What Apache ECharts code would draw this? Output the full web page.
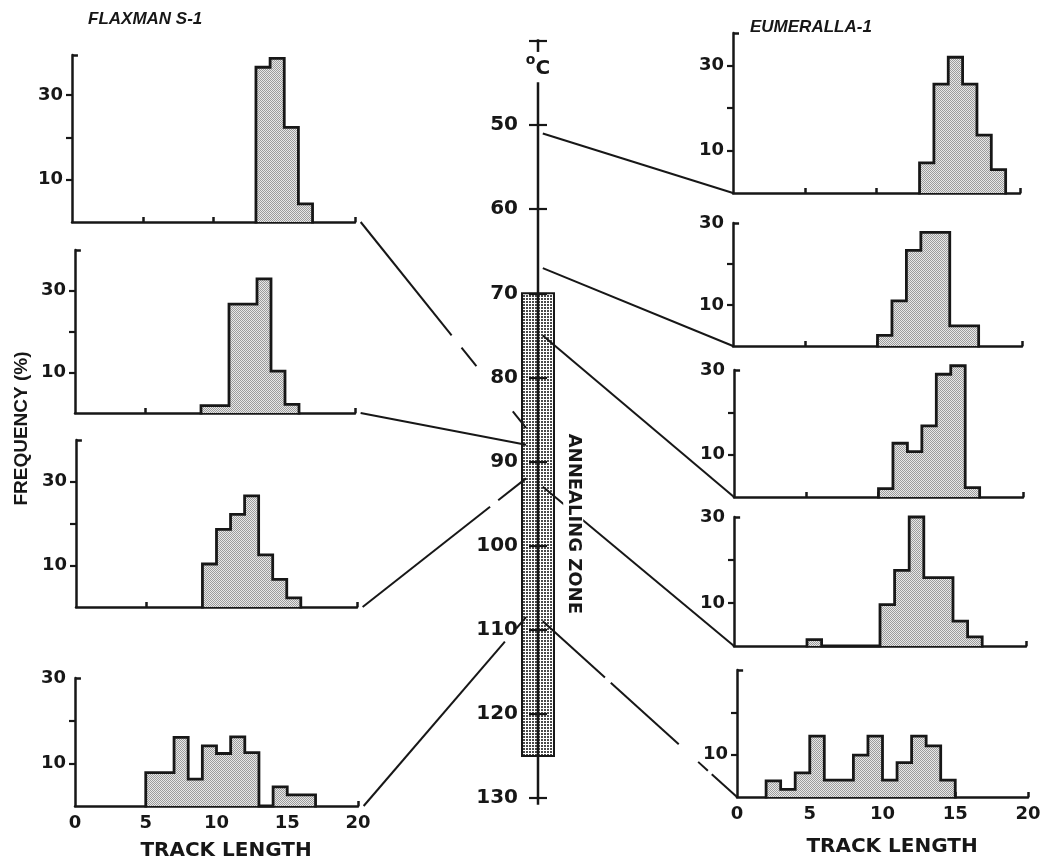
<!DOCTYPE html>
<html>
<head>
<meta charset="utf-8">
<title>Track length distributions vs temperature</title>
<script src="https://cdn.jsdelivr.net/npm/echarts@6/dist/echarts.min.js"></script>
<style>
  html, body { margin: 0; padding: 0; background: #fff; }
  #chart { width: 1047px; height: 860px; }
</style>
</head>
<body>
<div id="chart"></div>
<script>
// ---------------- data ----------------
const trackLengthTicks = [0, 5, 10, 15, 20];
const frequencyTicks = [10, 20, 30];
const frequencyLabels = [10, 30];
const lowestEumerallaLabels = [10];
const temperatureTicks = [40, 50, 60, 70, 80, 90, 100, 110, 120, 130];
const temperatureLabels = [50, 60, 70, 80, 90, 100, 110, 120, 130];

const flaxmanTitle = 'FLAXMAN S-1';
const eumerallaTitle = 'EUMERALLA-1';

// Flaxman S-1: first bin (track length) and frequency (%) per 1-unit bin
const flaxmanFirstBin = [13, 9, 9, 5];
const flaxman1 = [36.6, 38.7, 22.4, 4.3];
const flaxman2 = [1.8, 1.8, 26.7, 26.7, 32.9, 10.3, 2.1];
const flaxman3 = [10.3, 18.6, 22.2, 26.6, 12.5, 6.6, 2.2];
const flaxman4 = [7.8, 7.8, 16.1, 6.3, 14.1, 12.3, 16.2, 12.5, 0, 4.5, 2.6, 2.6];
// temperature (°C) each Flaxman sample is tied to
const flaxmanTemps = [86, 88, 92, 108.5];

// Eumeralla-1
const eumerallaFirstBin = [13, 10, 10, 5, 2];
const eumeralla1 = [7.1, 25.6, 31.9, 25.6, 13.6, 5.5];
const eumeralla2 = [2.6, 11, 23.3, 27.7, 27.7, 4.9, 4.9];
const eumeralla3 = [2, 12.7, 10.7, 16.8, 29, 31, 2.2];
const eumeralla4 = [1.5, 0, 0, 0, 0, 9.6, 17.6, 30, 15.9, 15.9, 5.8, 2.1];
const eumeralla5 = [3.8, 1.8, 5.7, 14.4, 4.0, 4.0, 9.9, 14.4, 4.0, 8.1, 14.4, 12.1, 4.0];
const eumerallaTemps = [51, 67, 75, 93, 109];

// temperature range of the annealing zone (°C)
const annealingZone = [70, 125];

// ---------------- layout ----------------
const INK = '#171717';
const leftBoxes = [
  { left: 72, top: 55,  width: 283, height: 167, yMax: 39.5 },
  { left: 75, top: 250, width: 280, height: 163, yMax: 40 },
  { left: 76, top: 440, width: 281, height: 167, yMax: 40 },
  { left: 75, top: 678, width: 283, height: 128, yMax: 30 }
];
const rightBoxes = [
  { left: 733, top: 33,  width: 287, height: 160, yMax: 37.6 },
  { left: 733, top: 223, width: 289, height: 123, yMax: 30 },
  { left: 734, top: 370, width: 289, height: 127, yMax: 30 },
  { left: 734, top: 517, width: 292, height: 129, yMax: 30 },
  { left: 737, top: 670, width: 291, height: 127, yMax: 30 }
];
const centerBox = { left: 498, top: 41, width: 80, height: 757 };
// drawn pieces of the temperature spine (gap left for the unit label)
const spinePieces = [[39.8, 41.3], [44.9, 130.8]];
const capLength = 0.42; // length of the cap at the top of each frequency axis, in track-length units

// stippled fill used for the histograms
function makeStipple() {
  const c = document.createElement('canvas');
  c.width = 2; c.height = 2;
  const g = c.getContext('2d');
  g.fillStyle = '#e8e8e8'; g.fillRect(0, 0, 2, 2);
  g.fillStyle = '#9c9c9c'; g.fillRect(0, 0, 1, 1); g.fillRect(1, 1, 1, 1);
  return c;
}
// dotted fill for the annealing zone bar
function makeDots() {
  const c = document.createElement('canvas');
  c.width = 3; c.height = 3;
  const g = c.getContext('2d');
  g.fillStyle = '#ffffff'; g.fillRect(0, 0, 3, 3);
  g.fillStyle = '#4a4a4a'; g.fillRect(1, 1, 2, 2);
  return c;
}
const stipple = { image: makeStipple(), repeat: 'repeat' };
const zoneDots = { image: makeDots(), repeat: 'repeat' };

function stepPoints(first, counts) {
  const pts = [[first, 0]];
  counts.forEach((v, i) => pts.push([first + i + 1, v]));
  pts.push([first + counts.length, 0]);
  return pts;
}

const panels = [
  ...[flaxman1, flaxman2, flaxman3, flaxman4].map((c, i) => ({
    first: flaxmanFirstBin[i], counts: c, box: leftBoxes[i],
    bottom: i === 3, labels: frequencyLabels, nameGap: 35
  })),
  ...[eumeralla1, eumeralla2, eumeralla3, eumeralla4, eumeralla5].map((c, i) => ({
    first: eumerallaFirstBin[i], counts: c, box: rightBoxes[i],
    bottom: i === 4, labels: i === 4 ? lowestEumerallaLabels : frequencyLabels, nameGap: 40
  }))
];

const numFont = { fontFamily: 'DejaVu Sans', fontWeight: 'bold', fontSize: 18, color: INK };
const axisLineStyle = { color: INK, width: 2.5 };

const grids = [], xAxes = [], yAxes = [], series = [];

panels.forEach((p, k) => {
  const b = p.box;
  grids.push({ left: b.left, top: b.top, width: b.width, height: b.height, outerBoundsMode: 'none' });
  xAxes.push({
    gridIndex: k, type: 'value', min: 0, max: 20,
    axisLine: { show: true, onZero: false, lineStyle: axisLineStyle },
    axisTick: { show: true, inside: true, length: 5, customValues: trackLengthTicks.filter(v => v > 0),
                lineStyle: { color: INK, width: 2.5 } },
    axisLabel: p.bottom
      ? Object.assign({ show: true, customValues: trackLengthTicks, margin: 8 }, numFont)
      : { show: false },
    splitLine: { show: false },
    name: p.bottom ? 'TRACK LENGTH' : '',
    nameLocation: 'middle', nameGap: p.nameGap,
    nameTextStyle: { fontFamily: 'DejaVu Sans', fontWeight: 'bold', fontSize: 20, color: INK,
                     padding: [0, 0, 0, 19] }
  });
  yAxes.push({
    gridIndex: k, type: 'value', min: 0, max: b.yMax, position: 'left',
    axisLine: { show: true, onZero: false, lineStyle: axisLineStyle },
    axisTick: { show: true, inside: false, length: 6,
                customValues: frequencyTicks.filter(v => v < b.yMax),
                lineStyle: { color: INK, width: 2.2 } },
    axisLabel: Object.assign({ show: true, customValues: p.labels, margin: 9 }, numFont),
    splitLine: { show: false }
  });
  series.push({
    type: 'line', xAxisIndex: k, yAxisIndex: k,
    step: 'start', data: stepPoints(p.first, p.counts),
    symbol: 'none', clip: false, silent: true,
    lineStyle: { color: INK, width: 2.8, join: 'miter', cap: 'square' },
    areaStyle: { color: stipple, opacity: 1 },
    z: 2,
    // short cap at the top of the frequency axis, pointing into the plot
    markLine: {
      silent: true, animation: false, symbol: ['none', 'none'],
      label: { show: false },
      lineStyle: { color: INK, width: 2.5, type: 'solid' },
      emphasis: { disabled: true },
      data: [[{ coord: [0, b.yMax] }, { coord: [capLength, b.yMax] }]]
    }
  });
});

// central temperature scale
const C = panels.length;
grids.push({ left: centerBox.left, top: centerBox.top, width: centerBox.width, height: centerBox.height, outerBoundsMode: 'none' });
xAxes.push({ gridIndex: C, type: 'value', min: -1, max: 1, show: false });
yAxes.push({
  gridIndex: C, type: 'value', inverse: true, min: 40, max: 130,
  position: 'left', offset: -centerBox.width / 2, z: 6,
  axisLine: { show: false, onZero: false },
  axisTick: { show: true, inside: false, length: 9, customValues: temperatureTicks,
              lineStyle: { color: INK, width: 2.2 } },
  axisLabel: { show: true, customValues: temperatureLabels, margin: 20,
               fontFamily: 'DejaVu Sans', fontWeight: 'bold', fontSize: 20, color: INK },
  splitLine: { show: false },
  name: '{d|o}{c|C}', nameLocation: 'start', nameGap: -25,
  nameTextStyle: {
    align: 'center', verticalAlign: 'middle',
    rich: {
      d: { fontFamily: 'DejaVu Sans', fontWeight: 'bold', fontSize: 14, color: INK, verticalAlign: 'top', lineHeight: 26 },
      c: { fontFamily: 'DejaVu Sans', fontWeight: 'bold', fontSize: 20, color: INK, verticalAlign: 'bottom', lineHeight: 26 }
    }
  }
});
yAxes.push({
  gridIndex: C, type: 'value', inverse: true, min: 40, max: 130,
  position: 'right', offset: -centerBox.width / 2, z: 6,
  axisLine: { show: false },
  axisTick: { show: true, inside: false, length: 9, customValues: temperatureTicks,
              lineStyle: { color: INK, width: 2.2 } },
  axisLabel: { show: false },
  splitLine: { show: false }
});

series.push({
  type: 'custom', xAxisIndex: C, yAxisIndex: C, silent: true, z: 3,
  data: [annealingZone],
  renderItem: function (params, api) {
    const a = api.coord([-0.4, api.value(0)]);
    const b = api.coord([0.4, api.value(1)]);
    return {
      type: 'rect',
      shape: { x: a[0], y: a[1], width: b[0] - a[0], height: b[1] - a[1] },
      style: { fill: zoneDots, stroke: INK, lineWidth: 2 }
    };
  }
});
// temperature spine, drawn above the zone bar
series.push({
  type: 'custom', xAxisIndex: C, yAxisIndex: C, silent: true, z: 6,
  data: spinePieces,
  renderItem: function (params, api) {
    const a = api.coord([0, api.value(0)]);
    const b = api.coord([0, api.value(1)]);
    return {
      type: 'line',
      shape: { x1: a[0], y1: a[1], x2: b[0], y2: b[1] },
      style: { stroke: INK, lineWidth: 2.5 }
    };
  }
});
series.push({
  type: 'custom', xAxisIndex: C, yAxisIndex: C, silent: true, z: 5,
  data: [[0.88, 97.4]],
  renderItem: function (params, api) {
    const p = api.coord([api.value(0), api.value(1)]);
    return {
      type: 'text', x: p[0], y: p[1], rotation: -Math.PI / 2,
      style: {
        text: 'ANNEALING ZONE', fill: INK,
        font: 'bold 18px "DejaVu Sans"', align: 'center', verticalAlign: 'middle',
        backgroundColor: '#fff', padding: [1, 2, 1, 2]
      }
    };
  }
});

const option = {
  backgroundColor: '#fff',
  animation: false,
  title: [
    { text: flaxmanTitle, left: 88, top: 11, padding: 0,
      textStyle: { fontFamily: 'Liberation Sans', fontWeight: 'bold', fontStyle: 'italic', fontSize: 17, color: INK } },
    { text: eumerallaTitle, left: 750, top: 19, padding: 0,
      textStyle: { fontFamily: 'Liberation Sans', fontWeight: 'bold', fontStyle: 'italic', fontSize: 17, color: INK } }
  ],
  grid: grids,
  xAxis: xAxes,
  yAxis: yAxes,
  series: series
};

const chart = echarts.init(document.getElementById('chart'), null, { renderer: 'canvas' });
chart.setOption(option);

// ---------------- tie lines from each histogram to its temperature ----------------
function toPx(k, pt) {
  return chart.convertToPixel({ xAxisIndex: k, yAxisIndex: k }, pt);
}
// visible pieces of each tie line (fractions along the line)
const flaxmanPieces = [
  [[0, 0.55], [0.61, 0.70], [0.92, 1]],
  [[0, 1]],
  [[0, 0.78], [0.83, 1]],
  [[0, 0.87], [0.94, 1]]
];
const eumerallaPieces = [
  [[0, 1]], [[0, 1]], [[0, 1]], [[0, 1]],
  [[0, 0.32], [0.35, 0.70], [0.80, 0.85], [0.87, 1]]
];

const elements = [];
function addTie(a, b, pieces) {
  pieces.forEach(([f0, f1]) => {
    elements.push({
      type: 'line', z: 4, silent: true,
      shape: {
        x1: a[0] + (b[0] - a[0]) * f0, y1: a[1] + (b[1] - a[1]) * f0,
        x2: a[0] + (b[0] - a[0]) * f1, y2: a[1] + (b[1] - a[1]) * f1
      },
      style: { stroke: INK, lineWidth: 2 }
    });
  });
}
flaxmanTemps.forEach((t, i) => {
  addTie(toPx(i, [20.4, 0]), toPx(C, [-0.3, t]), flaxmanPieces[i]);
});
eumerallaTemps.forEach((t, i) => {
  const k = flaxmanTemps.length + i;
  addTie(toPx(C, [0.12, t]), toPx(k, [0, 0]), eumerallaPieces[i]);
});

// shared frequency axis title, centred between the 2nd and 3rd Flaxman panels
const freqY = (leftBoxes[1].top + leftBoxes[2].top + leftBoxes[2].height) / 2;
elements.push({
  type: 'text', x: 22, y: freqY, rotation: Math.PI / 2, silent: true,
  style: { text: 'FREQUENCY (%)', fill: INK, font: 'bold 19px "Liberation Sans"',
           align: 'center', verticalAlign: 'middle' }
});

chart.setOption({ graphic: { elements: elements } });
</script>
</body>
</html>
